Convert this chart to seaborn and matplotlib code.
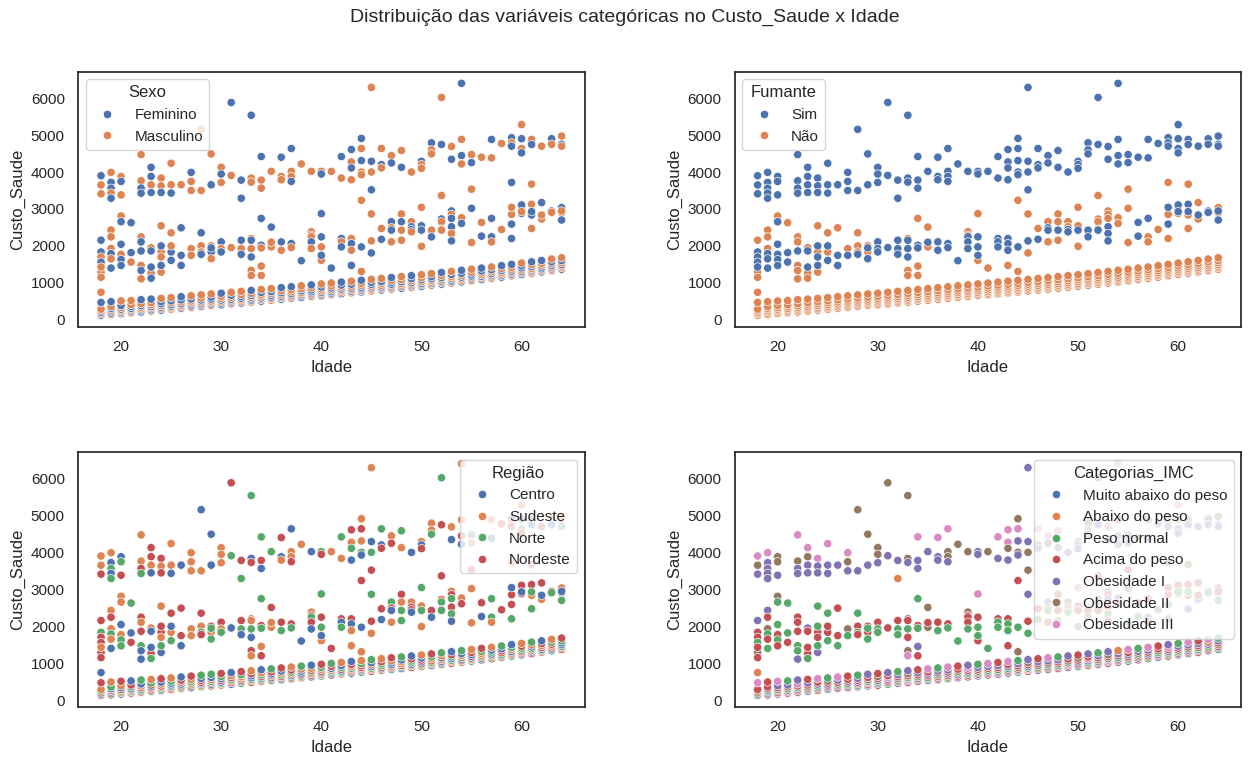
import matplotlib
matplotlib.use("Agg")
import matplotlib.pyplot as plt
import pandas as pd
import seaborn as sns

# ---------------- data ----------------
# low band: non-smokers
baixo_custo = {
    18: [120, 160, 200, 245, 290, 470, 745], 19: [140, 180, 225, 265, 310, 360, 490],
    20: [165, 205, 250, 290, 335, 390, 510], 21: [190, 230, 270, 310, 360, 410, 520],
    22: [210, 255, 295, 340, 385, 440, 545], 23: [235, 275, 320, 360, 410, 465, 560],
    24: [260, 300, 345, 385, 435, 490, 580], 25: [285, 325, 370, 410, 460, 515, 600],
    26: [310, 350, 395, 435, 485, 540, 625], 27: [335, 375, 420, 460, 510, 565, 650],
    28: [360, 400, 445, 485, 535, 590, 675], 29: [385, 425, 470, 510, 560, 615, 700],
    30: [405, 450, 490, 535, 585, 640, 720], 31: [430, 475, 515, 560, 610, 665, 745],
    32: [455, 500, 540, 585, 635, 690, 770], 33: [480, 525, 565, 610, 660, 715, 795],
    34: [505, 550, 590, 635, 685, 740, 820], 35: [530, 575, 615, 660, 710, 765, 845],
    36: [555, 600, 640, 685, 735, 790, 870], 37: [580, 625, 665, 710, 760, 815, 895],
    38: [605, 650, 690, 735, 785, 840, 920], 39: [630, 675, 715, 760, 810, 865, 945],
    40: [655, 700, 740, 785, 835, 890, 970], 41: [680, 725, 765, 810, 860, 915, 995],
    42: [705, 750, 790, 835, 885, 940, 1020], 43: [730, 775, 815, 860, 910, 965, 1045],
    44: [755, 800, 840, 885, 935, 990, 1070], 45: [780, 825, 865, 910, 960, 1015, 1095],
    46: [805, 850, 890, 935, 985, 1040, 1120], 47: [830, 875, 915, 960, 1010, 1065, 1145],
    48: [855, 900, 940, 985, 1035, 1090, 1170], 49: [880, 925, 965, 1010, 1060, 1115, 1195],
    50: [905, 950, 990, 1035, 1085, 1140, 1220], 51: [935, 980, 1020, 1065, 1115, 1170, 1250],
    52: [965, 1010, 1050, 1095, 1145, 1200, 1280], 53: [995, 1040, 1080, 1125, 1175, 1230, 1310],
    54: [1025, 1070, 1110, 1155, 1205, 1260, 1340], 55: [1055, 1100, 1140, 1185, 1235, 1290, 1370],
    56: [1090, 1135, 1175, 1220, 1270, 1325, 1400], 57: [1120, 1165, 1205, 1250, 1300, 1355, 1430],
    58: [1155, 1200, 1240, 1285, 1335, 1390, 1465], 59: [1190, 1235, 1275, 1320, 1370, 1425, 1500],
    60: [1225, 1270, 1310, 1355, 1405, 1460, 1535], 61: [1260, 1305, 1345, 1390, 1440, 1495, 1570],
    62: [1295, 1340, 1380, 1425, 1475, 1530, 1605], 63: [1335, 1380, 1420, 1465, 1515, 1570, 1645],
    64: [1370, 1415, 1455, 1500, 1550, 1605, 1680],
}
baixo_sexo = {
    18: "FMFMMFM", 19: "MFFMFMF", 20: "FMMFMFM", 21: "MFMFFMM", 22: "FFMMFMF", 23: "MFMFMMF",
    24: "FMFMFFM", 25: "MMFFMFM", 26: "FMMFMFF", 27: "MFFMMFM", 28: "FMFMFMM", 29: "MFMMFFM",
    30: "FFMFMMF", 31: "MFMFMFM", 32: "FMMFFMM", 33: "MFFMFMF", 34: "FMFMMFM", 35: "MMFFMFM",
    36: "FMFMFMF", 37: "MFMFMMF", 38: "FFMMFMM", 39: "MFMFFMF", 40: "FMFMMFM", 41: "MFFMFMM",
    42: "FMMFMFF", 43: "MFMFMFM", 44: "FMFFMMF", 45: "MMFMFFM", 46: "FMFMMFM", 47: "MFMFFMF",
    48: "FFMMFMM", 49: "MFMFMFF", 50: "FMFMFMM", 51: "MFMMFFM", 52: "FMFMFMF", 53: "MFFMMFM",
    54: "FMMFMFF", 55: "MFMFFMM", 56: "FMFMMFF", 57: "MFMFMFM", 58: "FFMMFMF", 59: "MFMFMMF",
    60: "FMFMFFM", 61: "MFMMFMF", 62: "FMFFMMF", 63: "MFMFMFM", 64: "FMMFMFM",
}
baixo_regiao = {
    18: "SCENSEC", 19: "NECSCNS", 20: "CSNECSE", 21: "ENSCNEC", 22: "SCNESCN", 23: "NESCENS",
    24: "CNSESCE", 25: "ESCNCNS", 26: "SNECSEC", 27: "CENSNSE", 28: "NSCEECN", 29: "ECSNSCN",
    30: "SNCECNE", 31: "CESNESC", 32: "NCESSNE", 33: "ESNCCES", 34: "SCNENSC", 35: "NECSCEN",
    36: "CSENSCE", 37: "ENCSNES", 38: "SNECCSN", 39: "CESNESC", 40: "NSCESNE", 41: "ECNSCEN",
    42: "SNCENCS", 43: "CESNSEC", 44: "NCSEENS", 45: "ESNCSCN", 46: "SCENNES", 47: "NESCCSE",
    48: "CNESSCN", 49: "ESCNNEC", 50: "SNECECS", 51: "CSNESNE", 52: "NECSCSN", 53: "ESNCNEC",
    54: "SCENSCN", 55: "NSCECES", 56: "CENSSNE", 57: "ENSCNCS", 58: "SCNEECN", 59: "NESCSNC",
    60: "CSENNES", 61: "ECSNCSN", 62: "SNCESEC", 63: "NCESENS", 64: "ESNCCNE",
}
baixo_imc = {
    18: "N1S2S3A", 19: "S1N12SS", 20: "1SN2S13", 21: "S12NS1N", 22: "2S1NS31", 23: "1NS2S1S",
    24: "S21N1S3", 25: "N1S1S2N", 26: "1S2NS13", 27: "S1N21SS", 28: "2NS1S1N", 29: "1S3N2S1",
    30: "S1N1S2S", 31: "N2S13S1", 32: "1SN2S1N", 33: "S13NS21", 34: "2S1NS1S", 35: "1N2S1S3",
    36: "S1SN21N", 37: "N2S1S13", 38: "1S1N2SS", 39: "S2N1S31", 40: "1SN2S1N", 41: "2S1NS13",
    42: "S1N2S1S", 43: "1S2N1S3", 44: "N1S2S1N", 45: "S3N1S21", 46: "1SN2S1S", 47: "2S1NS13",
    48: "S1N2S1N", 49: "1S3N2S1", 50: "N1S1S2S", 51: "S2N13S1", 52: "1SN2S1N", 53: "S13NS21",
    54: "2S1NS1A", 55: "1N2S1S3", 56: "S1SN21N", 57: "N2S1S13", 58: "1S1N2SS", 59: "S2N1S31",
    60: "1SN2S1N", 61: "2S1NS13", 62: "S1N2S1S", 63: "1S2N1A3", 64: "N1S2S1N",
}

# middle band: non-smokers
medio_nf_custo = {
    18: [2155, 1290, 1150], 19: [2430, 2245, 1930], 20: [2810, 1700], 21: [2627],
    22: [2245, 2109, 1472, 1336, 1109], 23: [1950, 1264, 1127], 24: [2545, 1836, 1291],
    25: [2354, 1836], 26: [2490], 27: [1927], 28: [2354, 2000, 1836], 29: [2000, 1836],
    33: [2200, 1336, 1200], 34: [2745, 1454, 1200], 35: [2509, 1973], 39: [2381, 2290],
    40: [2873, 1609], 41: [1400], 43: [1472], 44: [3236, 1310], 45: [2864, 1809], 46: [2472],
    47: [2654, 2109], 48: [2864, 2654, 2154], 49: [2654, 2518], 50: [3045, 2545, 1990],
    52: [3363, 2727, 2654, 2454], 53: [2945, 2854, 2745], 54: [2763, 2609],
    55: [3536, 3018, 2091], 57: [2245, 2109], 58: [2445], 59: [3718, 2854, 2200],
    60: [3036, 2880], 61: [3672, 2836, 2472], 62: [3172, 2727], 63: [2900], 64: [3036, 2900],
}
medio_nf_sexo = {
    18: "FMM", 19: "MMM", 20: "MM", 21: "F", 22: "MFMFM", 23: "MMF", 24: "MMM", 25: "MF",
    26: "F", 27: "M", 28: "FMM", 29: "MF", 33: "MMM", 34: "FMM", 35: "FM", 39: "MM", 40: "FM",
    41: "F", 43: "F", 44: "MM", 45: "MF", 46: "M", 47: "FM", 48: "MFM", 49: "MF", 50: "MFM",
    52: "MFMM", 53: "FMF", 54: "MF", 55: "MFM", 57: "FM", 58: "M", 59: "FMF", 60: "MF",
    61: "MFM", 62: "FM", 63: "M", 64: "FM",
}
medio_nf_regiao = {
    18: "EEE", 19: "SES", 20: "SS", 21: "N", 22: "ESNCC", 23: "SEN", 24: "SEC", 25: "ES",
    26: "E", 27: "S", 28: "ESN", 29: "ES", 33: "SES", 34: "NSE", 35: "ES", 39: "SE", 40: "NS",
    41: "E", 43: "S", 44: "ES", 45: "NS", 46: "E", 47: "NS", 48: "ESN", 49: "SE", 50: "NSS",
    52: "ESNE", 53: "SEN", 54: "SE", 55: "ESS", 57: "NS", 58: "E", 59: "SEN", 60: "SE",
    61: "ESN", 62: "ES", 63: "N", 64: "SN",
}
medio_nf_imc = {
    18: "12S", 19: "1S2", 20: "2S", 21: "N", 22: "SSNN1", 23: "1SN", 24: "NS1", 25: "NS",
    26: "S", 27: "2", 28: "NSN", 29: "SS", 33: "223", 34: "N1S", 35: "22", 39: "2S", 40: "3S",
    41: "N", 43: "S", 44: "S2", 45: "1N", 46: "S", 47: "1S", 48: "S1N", 49: "2S", 50: "3S2",
    52: "S1NS", 53: "2S1", 54: "1S", 55: "S2N", 57: "1S", 58: "2", 59: "2S1", 60: "1S",
    61: "2S1", 62: "S1", 63: "2", 64: "S1",
}

# middle band: smokers
medio_f_custo = {
    18: [1836, 1700, 1560, 1430], 19: [1790, 1650, 1400], 20: [2654, 2045, 1773, 1630, 1470],
    21: [1818, 1563], 22: [1864], 23: [1864, 1427], 24: [2000, 1700, 1472], 25: [2000, 1609],
    26: [1745, 1472], 27: [1745], 28: [1773], 29: [1945, 1654], 30: [2109, 1927, 1836],
    31: [1954], 32: [2154, 1927, 1773], 33: [2154, 1927, 1700], 34: [2018, 1945], 35: [2100],
    36: [2109, 1882], 37: [2063, 1954], 38: [1600], 39: [2245, 2109, 1927],
    40: [2245, 1973, 1745], 42: [2200, 2109, 1973], 43: [2200, 2063, 1882], 44: [1973],
    45: [2136], 46: [2180], 47: [2490, 2427], 48: [2427], 49: [2445, 2380], 50: [2427],
    51: [2427, 2245], 52: [2427], 53: [2518, 2336, 2136], 56: [2636, 2264], 57: [2745],
    59: [3045, 2590], 60: [3109, 2927], 61: [3127, 2927], 62: [2836], 63: [2945, 2909],
    64: [2945, 2700],
}
medio_f_sexo = {
    18: "FMFM", 19: "FMF", 20: "FFMFF", 21: "FM", 22: "F", 23: "FF", 24: "FMF", 25: "MF",
    26: "FF", 27: "M", 28: "F", 29: "FM", 30: "FMF", 31: "M", 32: "FMF", 33: "FMF", 34: "FM",
    35: "M", 36: "FM", 37: "FM", 38: "F", 39: "MFM", 40: "FMF", 42: "FMF", 43: "MFM", 44: "F",
    45: "M", 46: "F", 47: "MF", 48: "M", 49: "FM", 50: "F", 51: "MF", 52: "M", 53: "FMF",
    56: "MF", 57: "F", 59: "MF", 60: "FM", 61: "MF", 62: "M", 63: "FM", 64: "MF",
}
medio_f_regiao = {
    18: "NEES", 19: "NSC", 20: "SCSNN", 21: "CE", 22: "E", 23: "CC", 24: "ESN", 25: "CN",
    26: "EC", 27: "S", 28: "E", 29: "NN", 30: "ESN", 31: "C", 32: "ENC", 33: "SNC", 34: "EN",
    35: "S", 36: "EN", 37: "EN", 38: "C", 39: "NEC", 40: "ENC", 42: "ECN", 43: "ECS", 44: "C",
    45: "E", 46: "C", 47: "EC", 48: "N", 49: "EC", 50: "N", 51: "EC", 52: "N", 53: "ENC",
    56: "EC", 57: "N", 59: "CE", 60: "EC", 61: "EN", 62: "C", 63: "EN", 64: "CN",
}
medio_f_imc = {
    18: "SSNS", 19: "NSN", 20: "NNSNS", 21: "NS", 22: "S", 23: "SS", 24: "NSN", 25: "SN",
    26: "SN", 27: "N", 28: "S", 29: "NN", 30: "SNN", 31: "S", 32: "SNN", 33: "SNS", 34: "SN",
    35: "S", 36: "SN", 37: "SN", 38: "N", 39: "SSN", 40: "SNN", 42: "SNN", 43: "SNN", 44: "N",
    45: "S", 46: "N", 47: "SN", 48: "S", 49: "SN", 50: "S", 51: "SN", 52: "S", 53: "SNS",
    56: "SN", 57: "S", 59: "SN", 60: "SN", 61: "SN", 62: "S", 63: "SN", 64: "SN",
}

# high band: smokers
alto_custo = {
    18: [3900, 3650, 3410], 19: [3990, 3720, 3560, 3430, 3290], 20: [3880, 3745, 3380],
    22: [4472, 3763, 3563, 3427], 23: [4127, 3881, 3654, 3445], 24: [3836, 3627, 3445],
    25: [4236, 3654, 3430], 26: [3654], 27: [3990, 3745, 3500], 28: [5154, 3500],
    29: [4490, 3654], 30: [4127, 3945, 3718], 31: [5882, 3908], 32: [3781, 3290],
    33: [5536, 3836, 3727], 34: [4418, 3781, 3563], 35: [4018], 36: [4400, 3880, 3790],
    37: [4636, 4018, 3880, 3745], 38: [4218], 39: [4018], 40: [4018, 3945], 41: [4018],
    42: [4418, 3836], 43: [4609, 4272, 4109, 3790], 44: [4909, 4636, 4309, 4000, 3927],
    45: [6290, 4290, 4000, 3518], 46: [4636, 4200, 4110], 47: [4445, 4245], 48: [4582, 4127],
    49: [3999], 50: [4290, 4200, 4100], 51: [4790, 4600, 4490], 52: [6018, 4745],
    53: [4690, 4345], 54: [6400, 4882, 4445, 4218], 55: [4472, 4254], 56: [4400],
    57: [4882, 4382], 58: [4772], 59: [4927, 4790, 4700], 60: [5282, 4900, 4636, 4518],
    61: [4881, 4745], 62: [4700], 63: [4900, 4750], 64: [4972, 4750, 4700],
}
alto_sexo = {
    18: "FMM", 19: "MFFMF", 20: "MFM", 22: "MMFF", 23: "FFMF", 24: "MMF", 25: "MMF", 26: "M",
    27: "FMM", 28: "MM", 29: "MF", 30: "MFM", 31: "FM", 32: "FF", 33: "FMM", 34: "FMM",
    35: "M", 36: "FMM", 37: "FMMF", 38: "M", 39: "M", 40: "MF", 41: "M", 42: "FM",
    43: "FMFM", 44: "FMFMM", 45: "MFMF", 46: "MFM", 47: "MF", 48: "MF", 49: "M", 50: "FMM",
    51: "FMM", 52: "MF", 53: "MF", 54: "FMFM", 55: "MF", 56: "M", 57: "FM", 58: "M",
    59: "FMF", 60: "MFMF", 61: "MF", 62: "M", 63: "FM", 64: "MFM",
}
alto_regiao = {
    18: "SSE", 19: "SCNCN", 20: "CNE", 22: "SSEN", 23: "EESC", 24: "ESE", 25: "SSC", 26: "C",
    27: "SSS", 28: "CS", 29: "CC", 30: "SSS", 31: "EN", 32: "EN", 33: "NCE", 34: "NEC",
    35: "N", 36: "ECS", 37: "CSSE", 38: "S", 39: "C", 40: "NE", 41: "S", 42: "NS",
    43: "ESNC", 44: "SESNC", 45: "SCNE", 46: "NCE", 47: "SE", 48: "NS", 49: "C", 50: "SCE",
    51: "SSN", 52: "NE", 53: "SC", 54: "SSEC", 55: "NS", 56: "E", 57: "SC", 58: "E",
    59: "CSE", 60: "SCNE", 61: "SC", 62: "E", 63: "SC", 64: "SEN",
}
alto_imc = {
    18: "321", 19: "31111", 20: "221", 22: "3211", 23: "3211", 24: "311", 25: "311", 26: "1",
    27: "321", 28: "21", 29: "21", 30: "221", 31: "21", 32: "1A", 33: "221", 34: "311",
    35: "1", 36: "311", 37: "3221", 38: "2", 39: "2", 40: "11", 41: "2", 42: "31",
    43: "3321", 44: "23121", 45: "1122", 46: "321", 47: "32", 48: "31", 49: "1", 50: "211",
    51: "211", 52: "21", 53: "31", 54: "3211", 55: "11", 56: "2", 57: "21", 58: "1",
    59: "221", 60: "3211", 61: "21", 62: "1", 63: "21", 64: "211",
}

# category labels
sexo_nomes = {"F": "Feminino", "M": "Masculino"}
regiao_nomes = {"C": "Centro", "S": "Sudeste", "N": "Norte", "E": "Nordeste"}
imc_nomes = {"M": "Muito abaixo do peso", "A": "Abaixo do peso", "N": "Peso normal",
             "S": "Acima do peso", "1": "Obesidade I", "2": "Obesidade II", "3": "Obesidade III"}
ordem_sexo = ["Feminino", "Masculino"]
ordem_fumante = ["Sim", "Não"]
ordem_regiao = ["Centro", "Sudeste", "Norte", "Nordeste"]
ordem_imc = ["Muito abaixo do peso", "Abaixo do peso", "Peso normal", "Acima do peso",
             "Obesidade I", "Obesidade II", "Obesidade III"]

# ---------------- build table ----------------
linhas = []
def montar(custos, sexos, regioes, imcs, fumante):
    for idade, vals in custos.items():
        s, r, m = sexos[idade], regioes[idade], imcs[idade]
        for i, v in enumerate(vals):
            linhas.append({
                "Idade": idade, "Custo_Saude": v,
                "Sexo": sexo_nomes[s[i % len(s)]],
                "Fumante": fumante,
                "Região": regiao_nomes[r[i % len(r)]],
                "Categorias_IMC": imc_nomes[m[i % len(m)]],
            })

montar(baixo_custo, baixo_sexo, baixo_regiao, baixo_imc, "Não")
montar(medio_nf_custo, medio_nf_sexo, medio_nf_regiao, medio_nf_imc, "Não")
montar(medio_f_custo, medio_f_sexo, medio_f_regiao, medio_f_imc, "Sim")
montar(alto_custo, alto_sexo, alto_regiao, alto_imc, "Sim")
df = pd.DataFrame(linhas)

# ---------------- plot ----------------
sns.set_theme(style="white")
plt.rcParams["font.family"] = ["Liberation Sans", "DejaVu Sans"]
fig, axes = plt.subplots(2, 2, figsize=(12.5, 7.63), dpi=100)
fig.subplots_adjust(left=0.0624, right=0.993, top=0.906, bottom=0.073,
                    hspace=0.49, wspace=0.296)
fig.suptitle("Distribuição das variáveis categóricas no Custo_Saude x Idade",
             fontsize=14, y=0.988)

paineis = [
    (axes[0, 0], "Sexo", ordem_sexo, "upper left"),
    (axes[0, 1], "Fumante", ordem_fumante, "upper left"),
    (axes[1, 0], "Região", ordem_regiao, "upper right"),
    (axes[1, 1], "Categorias_IMC", ordem_imc, "upper right"),
]
for ax, var, ordem, loc in paineis:
    sns.scatterplot(data=df, x="Idade", y="Custo_Saude", hue=var, hue_order=ordem, ax=ax)
    sns.move_legend(ax, loc, title=var)
    ax.set_xlabel("Idade")
    ax.set_ylabel("Custo_Saude")

fig.savefig("out.png", dpi=100)
